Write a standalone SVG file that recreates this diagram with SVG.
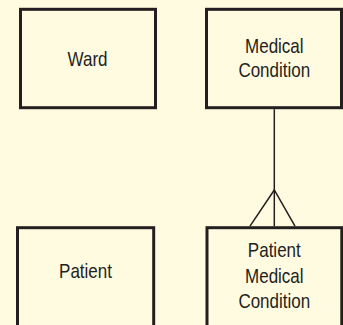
<svg xmlns="http://www.w3.org/2000/svg" width="343" height="325" viewBox="0 0 343 325">
<style>
.box{fill:#FFFBE1;stroke:#231F20;stroke-width:3}
.lbl{font-family:"Liberation Sans",Arial,sans-serif;font-size:21px;fill:#231F20;text-anchor:middle}
.conn{fill:none;stroke:#231F20;stroke-width:1.5}
</style>
<rect width="343" height="325" fill="#FFFBE1"/>
<g id="ward">
<rect class="box" x="20.5" y="9.3" width="135" height="98.4"/>
<g transform="translate(87.5,0) scale(0.81,1)"><text class="lbl" x="0" y="66">Ward</text></g>
</g>
<g id="medical-condition">
<rect class="box" x="206.5" y="9.3" width="135" height="98.4"/>
<g transform="translate(274.3,0) scale(0.81,1)"><text class="lbl" x="0" y="52.7">Medical</text><text class="lbl" x="0" y="76.7">Condition</text></g>
</g>
<g id="patient">
<rect class="box" x="17.5" y="227.7" width="136.2" height="110"/>
<g transform="translate(85.5,0) scale(0.81,1)"><text class="lbl" x="0" y="277.7">Patient</text></g>
</g>
<g id="patient-medical-condition">
<rect class="box" x="207" y="227.7" width="134.8" height="110"/>
<g transform="translate(274.3,0) scale(0.81,1)"><text class="lbl" x="0" y="257.5">Patient</text><text class="lbl" x="0" y="282.8">Medical</text><text class="lbl" x="0" y="307.7">Condition</text></g>
</g>
<g id="connectors">
<path class="conn" d="M274.3,109.2 V226.2"/>
<path class="conn" d="M250,226.2 L274.3,190 L295,226.2"/>
</g>
</svg>
